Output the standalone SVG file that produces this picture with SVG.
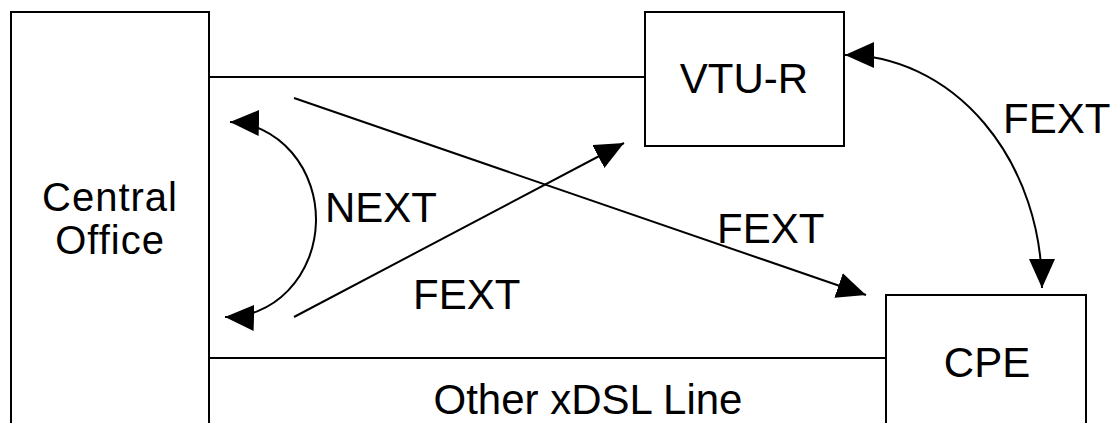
<svg xmlns="http://www.w3.org/2000/svg" width="1114" height="423" viewBox="0 0 1114 423">
  <style>
    .box { fill: #ffffff; stroke: #000000; stroke-width: 2; }
    .wire { fill: none; stroke: #000000; stroke-width: 2; }
    .lbl { font-family: "Liberation Sans", Arial, sans-serif; font-size: 42px; fill: #000000; }
    .co { font-size: 40px; letter-spacing: 1px; }
    .mid { text-anchor: middle; }
  </style>
  <defs>
    <marker id="arrow" markerUnits="userSpaceOnUse" markerWidth="30" markerHeight="28" refX="29" refY="13" orient="auto-start-reverse">
      <path d="M0,0 L29,13 L0,26 Z" fill="#000000"/>
    </marker>
  </defs>
  <rect width="1114" height="423" fill="#ffffff"/>

  <g id="connectors">
    <!-- subscriber lines -->
    <line class="wire" x1="209" y1="77" x2="645" y2="77"/>
    <line class="wire" x1="209" y1="358" x2="886" y2="358"/>
    <!-- far-end crosstalk paths -->
    <line class="wire" x1="294" y1="98" x2="866" y2="295" marker-end="url(#arrow)"/>
    <line class="wire" x1="294" y1="317" x2="624" y2="143" marker-end="url(#arrow)"/>
    <!-- near-end crosstalk at the central office -->
    <path class="wire" d="M230,122 A88,97 0 0 1 225,317" marker-start="url(#arrow)" marker-end="url(#arrow)"/>
    <!-- far-end crosstalk between remote units -->
    <path class="wire" d="M845,55 A197,233 0 0 1 1042,288" marker-start="url(#arrow)" marker-end="url(#arrow)"/>
  </g>

  <g id="central-office">
    <rect class="box" x="11" y="12" width="198" height="430"/>
    <text class="lbl co mid" x="110" y="211">Central</text>
    <text class="lbl co mid" x="110" y="254">Office</text>
  </g>

  <g id="vtu-r">
    <rect class="box" x="645" y="12" width="199" height="134"/>
    <text class="lbl mid" x="744" y="93">VTU-R</text>
  </g>

  <g id="cpe">
    <rect class="box" x="886" y="295" width="200" height="150"/>
    <text class="lbl mid" x="987" y="377">CPE</text>
  </g>

  <g id="labels">
    <text class="lbl" x="325" y="222">NEXT</text>
    <text class="lbl" x="413" y="309">FEXT</text>
    <text class="lbl" x="717" y="243">FEXT</text>
    <text class="lbl" x="1003" y="133">FEXT</text>
    <text class="lbl mid" x="588" y="414">Other xDSL Line</text>
  </g>
</svg>
